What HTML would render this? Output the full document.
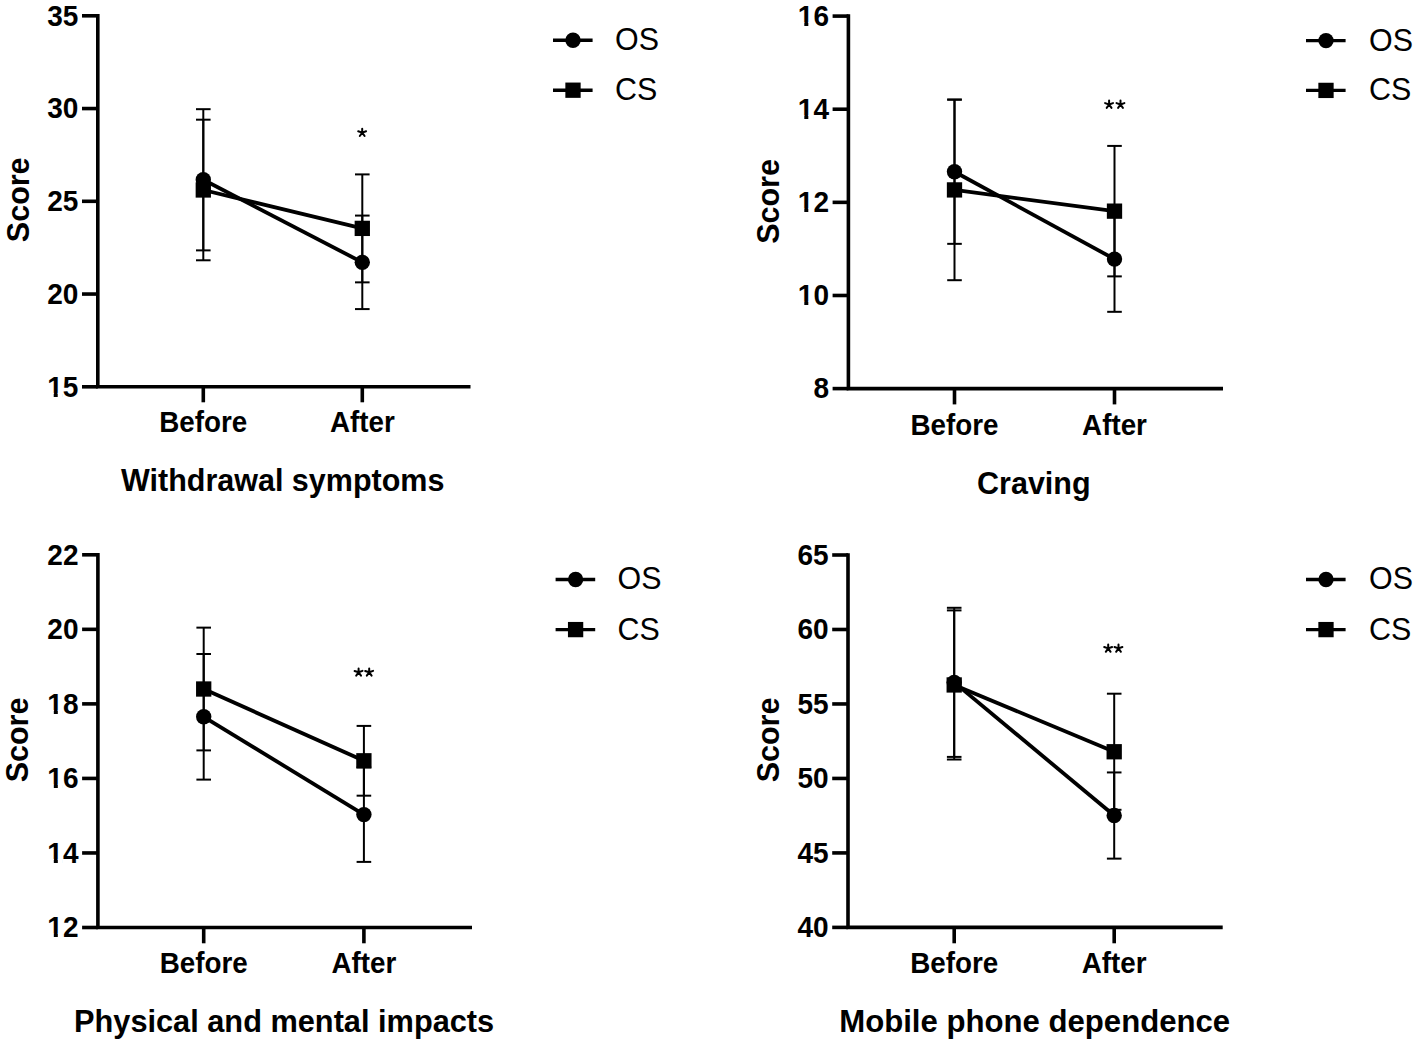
<!DOCTYPE html>
<html><head><meta charset="utf-8"><style>
html,body{margin:0;padding:0;background:#fff;}
body{width:1417px;height:1044px;overflow:hidden;}
svg{display:block;}
text{font-family:"Liberation Sans", sans-serif;fill:#000;}
</style></head><body>
<svg width="1417" height="1044" viewBox="0 0 1417 1044">
<rect width="1417" height="1044" fill="#fff"/>
<path d="M97.80 14.00 V386.80 H470.50" fill="none" stroke="#000" stroke-width="3.6" stroke-linejoin="miter"/>
<line x1="82.00" y1="15.80" x2="97.80" y2="15.80" stroke="#000" stroke-width="3.6"/>
<text transform="translate(78.40,25.60) scale(1,1.04)" text-anchor="end" font-size="28" font-weight="bold">35</text>
<line x1="82.00" y1="108.55" x2="97.80" y2="108.55" stroke="#000" stroke-width="3.6"/>
<text transform="translate(78.40,118.35) scale(1,1.04)" text-anchor="end" font-size="28" font-weight="bold">30</text>
<line x1="82.00" y1="201.30" x2="97.80" y2="201.30" stroke="#000" stroke-width="3.6"/>
<text transform="translate(78.40,211.10) scale(1,1.04)" text-anchor="end" font-size="28" font-weight="bold">25</text>
<line x1="82.00" y1="294.05" x2="97.80" y2="294.05" stroke="#000" stroke-width="3.6"/>
<text transform="translate(78.40,303.85) scale(1,1.04)" text-anchor="end" font-size="28" font-weight="bold">20</text>
<line x1="82.00" y1="386.80" x2="97.80" y2="386.80" stroke="#000" stroke-width="3.6"/>
<text transform="translate(78.40,396.60) scale(1,1.04)" text-anchor="end" font-size="28" font-weight="bold">15</text>
<rect x="47.67" y="392.87" width="6.04" height="4.43" fill="#fff"/>
<rect x="57.71" y="392.87" width="5.06" height="4.43" fill="#fff"/>
<line x1="203.30" y1="386.80" x2="203.30" y2="402.30" stroke="#000" stroke-width="3.6"/>
<line x1="362.30" y1="386.80" x2="362.30" y2="402.30" stroke="#000" stroke-width="3.6"/>
<text transform="translate(203.30,432.00) scale(1,1.06)" text-anchor="middle" font-size="27.8" font-weight="bold">Before</text>
<text transform="translate(362.30,432.00) scale(1,1.06)" text-anchor="middle" font-size="27.8" font-weight="bold">After</text>
<text transform="translate(282.70,490.90)" text-anchor="middle" font-size="30.5" font-weight="bold">Withdrawal symptoms</text>
<text transform="translate(28.60,199.80) rotate(-90) scale(1,1.035)" text-anchor="middle" font-size="30.5" font-weight="bold">Score</text>
<line x1="203.30" y1="109.18" x2="203.30" y2="250.38" stroke="#000" stroke-width="2.0"/>
<line x1="196.00" y1="109.18" x2="210.60" y2="109.18" stroke="#000" stroke-width="2.0"/>
<line x1="196.00" y1="250.38" x2="210.60" y2="250.38" stroke="#000" stroke-width="2.0"/>
<line x1="362.30" y1="215.58" x2="362.30" y2="309.08" stroke="#000" stroke-width="2.0"/>
<line x1="355.00" y1="215.58" x2="369.60" y2="215.58" stroke="#000" stroke-width="2.0"/>
<line x1="355.00" y1="309.08" x2="369.60" y2="309.08" stroke="#000" stroke-width="2.0"/>
<line x1="203.30" y1="119.68" x2="203.30" y2="260.29" stroke="#000" stroke-width="2.0"/>
<line x1="196.00" y1="119.68" x2="210.60" y2="119.68" stroke="#000" stroke-width="2.0"/>
<line x1="196.00" y1="260.29" x2="210.60" y2="260.29" stroke="#000" stroke-width="2.0"/>
<line x1="362.30" y1="174.40" x2="362.30" y2="282.36" stroke="#000" stroke-width="2.0"/>
<line x1="355.00" y1="174.40" x2="369.60" y2="174.40" stroke="#000" stroke-width="2.0"/>
<line x1="355.00" y1="282.36" x2="369.60" y2="282.36" stroke="#000" stroke-width="2.0"/>
<line x1="203.30" y1="179.78" x2="362.30" y2="262.33" stroke="#000" stroke-width="3.8"/>
<line x1="203.30" y1="189.98" x2="362.30" y2="228.38" stroke="#000" stroke-width="3.8"/>
<circle cx="203.30" cy="179.78" r="7.7"/>
<circle cx="362.30" cy="262.33" r="7.7"/>
<rect x="195.65" y="182.33" width="15.3" height="15.3"/>
<rect x="354.65" y="220.73" width="15.3" height="15.3"/>
<path transform="translate(362.20,132.60)" d="M0 0V-3.9M0 0L-4.0 -1.35M0 0L3.9 -1.4M0 0L-2.4 3.4M0 0L2.4 3.4" fill="none" stroke="#000" stroke-width="2.0" stroke-linecap="round"/>
<line x1="553.00" y1="40.30" x2="592.60" y2="40.30" stroke="#000" stroke-width="3.4"/>
<circle cx="573.00" cy="40.30" r="7.7"/>
<text transform="translate(615.00,50.20) scale(1,1.06)" text-anchor="start" font-size="30.4">OS</text>
<line x1="553.00" y1="90.20" x2="592.60" y2="90.20" stroke="#000" stroke-width="3.4"/>
<rect x="565.35" y="82.55" width="15.3" height="15.3"/>
<text transform="translate(615.00,100.10) scale(1,1.06)" text-anchor="start" font-size="30.4">CS</text>
<path d="M848.40 14.30 V388.60 H1223.00" fill="none" stroke="#000" stroke-width="3.6" stroke-linejoin="miter"/>
<line x1="832.60" y1="16.10" x2="848.40" y2="16.10" stroke="#000" stroke-width="3.6"/>
<text transform="translate(829.00,25.90) scale(1,1.04)" text-anchor="end" font-size="28" font-weight="bold">16</text>
<rect x="798.27" y="22.17" width="6.04" height="4.43" fill="#fff"/>
<rect x="808.31" y="22.17" width="5.06" height="4.43" fill="#fff"/>
<line x1="832.60" y1="109.22" x2="848.40" y2="109.22" stroke="#000" stroke-width="3.6"/>
<text transform="translate(829.00,119.02) scale(1,1.04)" text-anchor="end" font-size="28" font-weight="bold">14</text>
<rect x="798.27" y="115.30" width="6.04" height="4.43" fill="#fff"/>
<rect x="808.31" y="115.30" width="5.06" height="4.43" fill="#fff"/>
<line x1="832.60" y1="202.35" x2="848.40" y2="202.35" stroke="#000" stroke-width="3.6"/>
<text transform="translate(829.00,212.15) scale(1,1.04)" text-anchor="end" font-size="28" font-weight="bold">12</text>
<rect x="798.27" y="208.42" width="6.04" height="4.43" fill="#fff"/>
<rect x="808.31" y="208.42" width="5.06" height="4.43" fill="#fff"/>
<line x1="832.60" y1="295.48" x2="848.40" y2="295.48" stroke="#000" stroke-width="3.6"/>
<text transform="translate(829.00,305.28) scale(1,1.04)" text-anchor="end" font-size="28" font-weight="bold">10</text>
<rect x="798.27" y="301.55" width="6.04" height="4.43" fill="#fff"/>
<rect x="808.31" y="301.55" width="5.06" height="4.43" fill="#fff"/>
<line x1="832.60" y1="388.60" x2="848.40" y2="388.60" stroke="#000" stroke-width="3.6"/>
<text transform="translate(829.00,398.40) scale(1,1.04)" text-anchor="end" font-size="28" font-weight="bold">8</text>
<line x1="954.50" y1="388.60" x2="954.50" y2="404.40" stroke="#000" stroke-width="3.6"/>
<line x1="1114.50" y1="388.60" x2="1114.50" y2="404.40" stroke="#000" stroke-width="3.6"/>
<text transform="translate(954.50,434.50) scale(1,1.06)" text-anchor="middle" font-size="27.8" font-weight="bold">Before</text>
<text transform="translate(1114.50,434.50) scale(1,1.06)" text-anchor="middle" font-size="27.8" font-weight="bold">After</text>
<text transform="translate(1033.80,493.60)" text-anchor="middle" font-size="30.5" font-weight="bold">Craving</text>
<text transform="translate(778.90,201.50) rotate(-90) scale(1,1.035)" text-anchor="middle" font-size="30.5" font-weight="bold">Score</text>
<line x1="954.50" y1="99.59" x2="954.50" y2="243.84" stroke="#000" stroke-width="2.0"/>
<line x1="947.20" y1="99.59" x2="961.80" y2="99.59" stroke="#000" stroke-width="2.0"/>
<line x1="947.20" y1="243.84" x2="961.80" y2="243.84" stroke="#000" stroke-width="2.0"/>
<line x1="1114.50" y1="206.40" x2="1114.50" y2="311.82" stroke="#000" stroke-width="2.0"/>
<line x1="1107.20" y1="206.40" x2="1121.80" y2="206.40" stroke="#000" stroke-width="2.0"/>
<line x1="1107.20" y1="311.82" x2="1121.80" y2="311.82" stroke="#000" stroke-width="2.0"/>
<line x1="954.50" y1="99.63" x2="954.50" y2="280.20" stroke="#000" stroke-width="2.0"/>
<line x1="947.20" y1="99.63" x2="961.80" y2="99.63" stroke="#000" stroke-width="2.0"/>
<line x1="947.20" y1="280.20" x2="961.80" y2="280.20" stroke="#000" stroke-width="2.0"/>
<line x1="1114.50" y1="145.92" x2="1114.50" y2="276.38" stroke="#000" stroke-width="2.0"/>
<line x1="1107.20" y1="145.92" x2="1121.80" y2="145.92" stroke="#000" stroke-width="2.0"/>
<line x1="1107.20" y1="276.38" x2="1121.80" y2="276.38" stroke="#000" stroke-width="2.0"/>
<line x1="954.50" y1="171.71" x2="1114.50" y2="259.11" stroke="#000" stroke-width="3.8"/>
<line x1="954.50" y1="189.92" x2="1114.50" y2="211.15" stroke="#000" stroke-width="3.8"/>
<circle cx="954.50" cy="171.71" r="7.7"/>
<circle cx="1114.50" cy="259.11" r="7.7"/>
<rect x="946.85" y="182.27" width="15.3" height="15.3"/>
<rect x="1106.85" y="203.50" width="15.3" height="15.3"/>
<path transform="translate(1109.10,104.50)" d="M0 0V-3.9M0 0L-4.0 -1.35M0 0L3.9 -1.4M0 0L-2.4 3.4M0 0L2.4 3.4" fill="none" stroke="#000" stroke-width="2.0" stroke-linecap="round"/>
<path transform="translate(1120.50,104.50)" d="M0 0V-3.9M0 0L-4.0 -1.35M0 0L3.9 -1.4M0 0L-2.4 3.4M0 0L2.4 3.4" fill="none" stroke="#000" stroke-width="2.0" stroke-linecap="round"/>
<line x1="1306.00" y1="40.60" x2="1345.60" y2="40.60" stroke="#000" stroke-width="3.4"/>
<circle cx="1326.00" cy="40.60" r="7.7"/>
<text transform="translate(1369.00,50.50) scale(1,1.06)" text-anchor="start" font-size="30.4">OS</text>
<line x1="1306.00" y1="90.40" x2="1345.60" y2="90.40" stroke="#000" stroke-width="3.4"/>
<rect x="1318.35" y="82.75" width="15.3" height="15.3"/>
<text transform="translate(1369.00,100.30) scale(1,1.06)" text-anchor="start" font-size="30.4">CS</text>
<path d="M97.90 553.00 V927.50 H472.00" fill="none" stroke="#000" stroke-width="3.6" stroke-linejoin="miter"/>
<line x1="82.10" y1="554.80" x2="97.90" y2="554.80" stroke="#000" stroke-width="3.6"/>
<text transform="translate(78.50,564.60) scale(1,1.04)" text-anchor="end" font-size="28" font-weight="bold">22</text>
<line x1="82.10" y1="629.34" x2="97.90" y2="629.34" stroke="#000" stroke-width="3.6"/>
<text transform="translate(78.50,639.14) scale(1,1.04)" text-anchor="end" font-size="28" font-weight="bold">20</text>
<line x1="82.10" y1="703.88" x2="97.90" y2="703.88" stroke="#000" stroke-width="3.6"/>
<text transform="translate(78.50,713.68) scale(1,1.04)" text-anchor="end" font-size="28" font-weight="bold">18</text>
<rect x="47.77" y="709.95" width="6.04" height="4.43" fill="#fff"/>
<rect x="57.81" y="709.95" width="5.06" height="4.43" fill="#fff"/>
<line x1="82.10" y1="778.42" x2="97.90" y2="778.42" stroke="#000" stroke-width="3.6"/>
<text transform="translate(78.50,788.22) scale(1,1.04)" text-anchor="end" font-size="28" font-weight="bold">16</text>
<rect x="47.77" y="784.49" width="6.04" height="4.43" fill="#fff"/>
<rect x="57.81" y="784.49" width="5.06" height="4.43" fill="#fff"/>
<line x1="82.10" y1="852.96" x2="97.90" y2="852.96" stroke="#000" stroke-width="3.6"/>
<text transform="translate(78.50,862.76) scale(1,1.04)" text-anchor="end" font-size="28" font-weight="bold">14</text>
<rect x="47.77" y="859.03" width="6.04" height="4.43" fill="#fff"/>
<rect x="57.81" y="859.03" width="5.06" height="4.43" fill="#fff"/>
<line x1="82.10" y1="927.50" x2="97.90" y2="927.50" stroke="#000" stroke-width="3.6"/>
<text transform="translate(78.50,937.30) scale(1,1.04)" text-anchor="end" font-size="28" font-weight="bold">12</text>
<rect x="47.77" y="933.57" width="6.04" height="4.43" fill="#fff"/>
<rect x="57.81" y="933.57" width="5.06" height="4.43" fill="#fff"/>
<line x1="203.70" y1="927.50" x2="203.70" y2="943.30" stroke="#000" stroke-width="3.6"/>
<line x1="363.90" y1="927.50" x2="363.90" y2="943.30" stroke="#000" stroke-width="3.6"/>
<text transform="translate(203.70,973.00) scale(1,1.06)" text-anchor="middle" font-size="27.8" font-weight="bold">Before</text>
<text transform="translate(363.90,973.00) scale(1,1.06)" text-anchor="middle" font-size="27.8" font-weight="bold">After</text>
<text transform="translate(284.10,1032.40) scale(1.008,1.0)" text-anchor="middle" font-size="30.5" font-weight="bold">Physical and mental impacts</text>
<text transform="translate(28.30,740.00) rotate(-90) scale(1,1.035)" text-anchor="middle" font-size="30.5" font-weight="bold">Score</text>
<line x1="203.70" y1="654.01" x2="203.70" y2="779.61" stroke="#000" stroke-width="2.0"/>
<line x1="196.40" y1="654.01" x2="211.00" y2="654.01" stroke="#000" stroke-width="2.0"/>
<line x1="196.40" y1="779.61" x2="211.00" y2="779.61" stroke="#000" stroke-width="2.0"/>
<line x1="363.90" y1="767.31" x2="363.90" y2="861.90" stroke="#000" stroke-width="2.0"/>
<line x1="356.60" y1="767.31" x2="371.20" y2="767.31" stroke="#000" stroke-width="2.0"/>
<line x1="356.60" y1="861.90" x2="371.20" y2="861.90" stroke="#000" stroke-width="2.0"/>
<line x1="203.70" y1="627.63" x2="203.70" y2="750.39" stroke="#000" stroke-width="2.0"/>
<line x1="196.40" y1="627.63" x2="211.00" y2="627.63" stroke="#000" stroke-width="2.0"/>
<line x1="196.40" y1="750.39" x2="211.00" y2="750.39" stroke="#000" stroke-width="2.0"/>
<line x1="363.90" y1="725.91" x2="363.90" y2="795.68" stroke="#000" stroke-width="2.0"/>
<line x1="356.60" y1="725.91" x2="371.20" y2="725.91" stroke="#000" stroke-width="2.0"/>
<line x1="356.60" y1="795.68" x2="371.20" y2="795.68" stroke="#000" stroke-width="2.0"/>
<line x1="203.70" y1="716.81" x2="363.90" y2="814.61" stroke="#000" stroke-width="3.8"/>
<line x1="203.70" y1="689.01" x2="363.90" y2="760.79" stroke="#000" stroke-width="3.8"/>
<circle cx="203.70" cy="716.81" r="7.7"/>
<circle cx="363.90" cy="814.61" r="7.7"/>
<rect x="196.05" y="681.36" width="15.3" height="15.3"/>
<rect x="356.25" y="753.14" width="15.3" height="15.3"/>
<path transform="translate(358.60,672.30)" d="M0 0V-3.9M0 0L-4.0 -1.35M0 0L3.9 -1.4M0 0L-2.4 3.4M0 0L2.4 3.4" fill="none" stroke="#000" stroke-width="2.0" stroke-linecap="round"/>
<path transform="translate(369.20,672.30)" d="M0 0V-3.9M0 0L-4.0 -1.35M0 0L3.9 -1.4M0 0L-2.4 3.4M0 0L2.4 3.4" fill="none" stroke="#000" stroke-width="2.0" stroke-linecap="round"/>
<line x1="555.60" y1="579.50" x2="595.20" y2="579.50" stroke="#000" stroke-width="3.4"/>
<circle cx="575.60" cy="579.50" r="7.7"/>
<text transform="translate(617.50,589.40) scale(1,1.06)" text-anchor="start" font-size="30.4">OS</text>
<line x1="555.60" y1="629.60" x2="595.20" y2="629.60" stroke="#000" stroke-width="3.4"/>
<rect x="567.95" y="621.95" width="15.3" height="15.3"/>
<text transform="translate(617.50,639.50) scale(1,1.06)" text-anchor="start" font-size="30.4">CS</text>
<path d="M848.00 553.20 V927.40 H1222.70" fill="none" stroke="#000" stroke-width="3.6" stroke-linejoin="miter"/>
<line x1="832.20" y1="555.00" x2="848.00" y2="555.00" stroke="#000" stroke-width="3.6"/>
<text transform="translate(828.60,564.80) scale(1,1.04)" text-anchor="end" font-size="28" font-weight="bold">65</text>
<line x1="832.20" y1="629.48" x2="848.00" y2="629.48" stroke="#000" stroke-width="3.6"/>
<text transform="translate(828.60,639.28) scale(1,1.04)" text-anchor="end" font-size="28" font-weight="bold">60</text>
<line x1="832.20" y1="703.96" x2="848.00" y2="703.96" stroke="#000" stroke-width="3.6"/>
<text transform="translate(828.60,713.76) scale(1,1.04)" text-anchor="end" font-size="28" font-weight="bold">55</text>
<line x1="832.20" y1="778.44" x2="848.00" y2="778.44" stroke="#000" stroke-width="3.6"/>
<text transform="translate(828.60,788.24) scale(1,1.04)" text-anchor="end" font-size="28" font-weight="bold">50</text>
<line x1="832.20" y1="852.92" x2="848.00" y2="852.92" stroke="#000" stroke-width="3.6"/>
<text transform="translate(828.60,862.72) scale(1,1.04)" text-anchor="end" font-size="28" font-weight="bold">45</text>
<line x1="832.20" y1="927.40" x2="848.00" y2="927.40" stroke="#000" stroke-width="3.6"/>
<text transform="translate(828.60,937.20) scale(1,1.04)" text-anchor="end" font-size="28" font-weight="bold">40</text>
<line x1="954.20" y1="927.40" x2="954.20" y2="943.30" stroke="#000" stroke-width="3.6"/>
<line x1="1114.20" y1="927.40" x2="1114.20" y2="943.30" stroke="#000" stroke-width="3.6"/>
<text transform="translate(954.20,973.00) scale(1,1.06)" text-anchor="middle" font-size="27.8" font-weight="bold">Before</text>
<text transform="translate(1114.20,973.00) scale(1,1.06)" text-anchor="middle" font-size="27.8" font-weight="bold">After</text>
<text transform="translate(1034.70,1032.40) scale(1.021,1.0)" text-anchor="middle" font-size="30.5" font-weight="bold">Mobile phone dependence</text>
<text transform="translate(778.90,740.00) rotate(-90) scale(1,1.035)" text-anchor="middle" font-size="30.5" font-weight="bold">Score</text>
<line x1="954.20" y1="607.79" x2="954.20" y2="756.90" stroke="#000" stroke-width="2.0"/>
<line x1="946.90" y1="607.79" x2="961.50" y2="607.79" stroke="#000" stroke-width="2.0"/>
<line x1="946.90" y1="756.90" x2="961.50" y2="756.90" stroke="#000" stroke-width="2.0"/>
<line x1="1114.20" y1="772.44" x2="1114.20" y2="858.63" stroke="#000" stroke-width="2.0"/>
<line x1="1106.90" y1="772.44" x2="1121.50" y2="772.44" stroke="#000" stroke-width="2.0"/>
<line x1="1106.90" y1="858.63" x2="1121.50" y2="858.63" stroke="#000" stroke-width="2.0"/>
<line x1="954.20" y1="610.40" x2="954.20" y2="759.51" stroke="#000" stroke-width="2.0"/>
<line x1="946.90" y1="610.40" x2="961.50" y2="610.40" stroke="#000" stroke-width="2.0"/>
<line x1="946.90" y1="759.51" x2="961.50" y2="759.51" stroke="#000" stroke-width="2.0"/>
<line x1="1114.20" y1="693.70" x2="1114.20" y2="809.80" stroke="#000" stroke-width="2.0"/>
<line x1="1106.90" y1="693.70" x2="1121.50" y2="693.70" stroke="#000" stroke-width="2.0"/>
<line x1="1106.90" y1="809.80" x2="1121.50" y2="809.80" stroke="#000" stroke-width="2.0"/>
<line x1="954.20" y1="682.35" x2="1114.20" y2="815.53" stroke="#000" stroke-width="3.8"/>
<line x1="954.20" y1="684.95" x2="1114.20" y2="751.75" stroke="#000" stroke-width="3.8"/>
<circle cx="954.20" cy="682.35" r="7.7"/>
<circle cx="1114.20" cy="815.53" r="7.7"/>
<rect x="946.55" y="677.30" width="15.3" height="15.3"/>
<rect x="1106.55" y="744.10" width="15.3" height="15.3"/>
<path transform="translate(1108.20,648.40)" d="M0 0V-3.9M0 0L-4.0 -1.35M0 0L3.9 -1.4M0 0L-2.4 3.4M0 0L2.4 3.4" fill="none" stroke="#000" stroke-width="2.0" stroke-linecap="round"/>
<path transform="translate(1118.50,648.40)" d="M0 0V-3.9M0 0L-4.0 -1.35M0 0L3.9 -1.4M0 0L-2.4 3.4M0 0L2.4 3.4" fill="none" stroke="#000" stroke-width="2.0" stroke-linecap="round"/>
<line x1="1306.00" y1="579.50" x2="1345.60" y2="579.50" stroke="#000" stroke-width="3.4"/>
<circle cx="1326.00" cy="579.50" r="7.7"/>
<text transform="translate(1369.00,589.40) scale(1,1.06)" text-anchor="start" font-size="30.4">OS</text>
<line x1="1306.00" y1="629.60" x2="1345.60" y2="629.60" stroke="#000" stroke-width="3.4"/>
<rect x="1318.35" y="621.95" width="15.3" height="15.3"/>
<text transform="translate(1369.00,639.50) scale(1,1.06)" text-anchor="start" font-size="30.4">CS</text>
</svg>
</body></html>
